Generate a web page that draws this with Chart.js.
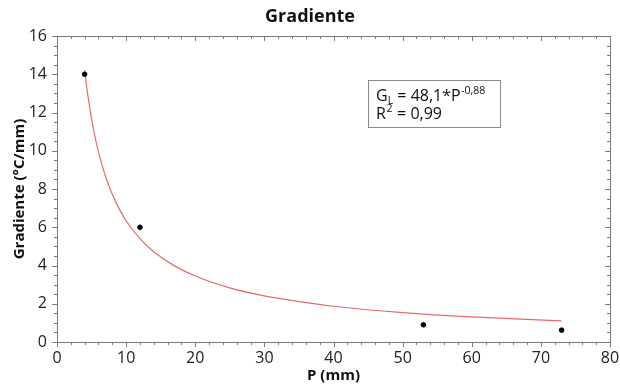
<!DOCTYPE html>
<html>
<head>
<meta charset="utf-8">
<script src="https://cdn.jsdelivr.net/npm/chart.js@4/dist/chart.umd.min.js"></script>
<style>
  html, body { margin: 0; padding: 0; background: #fff; }
  #wrap { width: 620px; height: 385px; }
</style>
</head>
<body>
<div id="wrap"><canvas id="c" width="620" height="385"></canvas></div>
<script>
// Measured points
const pointsP = [4, 12, 53, 73];
const pointsG = [14.0, 6.0, 0.9, 0.62];

// Fitted curve
const fitP = [4, 4.5, 5, 5.5, 6, 7, 8, 9, 10, 12, 14, 17, 20, 25, 30, 35, 40, 50, 60, 73];
const fitG = [14.2, 12.8, 11.67, 10.73, 9.94, 8.68, 7.72, 6.96, 6.34, 5.40, 4.72, 3.98, 3.45, 2.83, 2.41, 2.11, 1.87, 1.54, 1.31, 1.10];

const titleText = 'Gradiente';
const xTitle = 'P (mm)';
const yTitle = 'Gradiente (°C/mm)';
const eqMain = 'G';
const eqSub = 'L';
const eqMid = ' = 48,1*P';
const eqSup = '-0,88';
const r2Main = 'R';
const r2Sup = '2';
const r2Rest = ' = 0,99';

const FONT = "'Open Sans', 'DejaVu Sans', sans-serif";
const AXIS_COLOR = '#7a7a7a';

const framePlugin = {
  id: 'frame',
  afterDraw(chart) {
    const {ctx, chartArea: a, scales: {x, y}} = chart;
    ctx.save();
    ctx.strokeStyle = AXIS_COLOR;
    ctx.lineWidth = 1;
    ctx.beginPath();
    ctx.rect(Math.round(a.left) + 0.5, Math.round(a.top) + 0.5, Math.round(a.right - a.left), Math.round(a.bottom - a.top));
    ctx.stroke();
    ctx.beginPath();
    for (let v = 0; v <= 80; v += 2) {
      const px = Math.round(x.getPixelForValue(v)) + 0.5;
      const major = v % 10 === 0;
      const len = major ? 5 : 3;
      ctx.moveTo(px, a.bottom); ctx.lineTo(px, a.bottom + len);
      ctx.moveTo(px, a.top); ctx.lineTo(px, a.top + len);
    }
    for (let i = 0; i <= 32; i++) {
      const v = i * 0.5;
      const py = Math.round(y.getPixelForValue(v)) + 0.5;
      const major = i % 4 === 0;
      const len = major ? 5 : 3;
      ctx.moveTo(a.left, py); ctx.lineTo(a.left - len, py);
      ctx.moveTo(a.right, py); ctx.lineTo(a.right - len, py);
    }
    ctx.stroke();

    // Equation box
    const bx0 = x.getPixelForValue(45.0), bx1 = x.getPixelForValue(64.1);
    const by0 = y.getPixelForValue(13.7), by1 = y.getPixelForValue(11.25);
    ctx.fillStyle = '#fff';
    ctx.fillRect(bx0, by0, bx1 - bx0, by1 - by0);
    ctx.strokeStyle = '#8a8a8a';
    ctx.strokeRect(Math.round(bx0) + 0.5, Math.round(by0) + 0.5, Math.round(bx1 - bx0), Math.round(by1 - by0));

    ctx.fillStyle = '#111';
    ctx.textBaseline = 'alphabetic';
    ctx.textAlign = 'left';
    const big = '16px ' + FONT, small = '10.5px ' + FONT;
    let tx = bx0 + 8;
    let ty = by0 + 21;
    ctx.font = big; ctx.fillText(eqMain, tx, ty); tx += ctx.measureText(eqMain).width;
    ctx.font = small; ctx.fillText(eqSub, tx, ty + 3); tx += ctx.measureText(eqSub).width;
    ctx.font = big; ctx.fillText(eqMid, tx, ty); tx += ctx.measureText(eqMid).width;
    ctx.font = small; ctx.fillText(eqSup, tx + 0.5, ty - 7);
    tx = bx0 + 8;
    ty = by0 + 39;
    ctx.font = big; ctx.fillText(r2Main, tx, ty); tx += ctx.measureText(r2Main).width;
    ctx.font = small; ctx.fillText(r2Sup, tx + 0.5, ty - 7); tx += ctx.measureText(r2Sup).width + 1;
    ctx.font = big; ctx.fillText(r2Rest, tx, ty);
    ctx.restore();
  }
};

new Chart(document.getElementById('c'), {
  type: 'scatter',
  data: {
    datasets: [
      {
        label: 'Ajuste',
        data: fitP.map((p, i) => ({x: p, y: fitG[i]})),
        showLine: true,
        borderColor: '#e36b6b',
        borderWidth: 1.2,
        pointRadius: 0,
        cubicInterpolationMode: 'monotone',
        order: 2
      },
      {
        label: 'Gradiente',
        data: pointsP.map((p, i) => ({x: p, y: pointsG[i]})),
        backgroundColor: '#000',
        borderColor: '#000',
        pointRadius: 2.3,
        order: 1
      }
    ]
  },
  options: {
    responsive: false,
    animation: false,
    layout: { padding: { left: 0, right: 0, top: 0, bottom: 0 } },
    plugins: {
      legend: { display: false },
      tooltip: { enabled: false },
      title: {
        display: true,
        text: titleText,
        color: '#111',
        font: { family: FONT, size: 18, weight: 'bold', lineHeight: 1.2 },
        padding: { top: 6, bottom: 8.4 }
      }
    },
    scales: {
      x: {
        type: 'linear',
        min: 0, max: 80,
        grid: { display: false, drawTicks: false },
        border: { display: false },
        ticks: { stepSize: 10, color: '#222', padding: 7, font: { family: FONT, size: 16 } },
        title: { display: true, text: xTitle, color: '#111', padding: { top: 0, bottom: 0 }, font: { family: FONT, size: 15, weight: 'bold', lineHeight: 1.2 } },
        afterFit(s) { s.height = 43; s.paddingLeft = 0; s.paddingRight = 0; }
      },
      y: {
        type: 'linear',
        min: 0, max: 16,
        grid: { display: false, drawTicks: false },
        border: { display: false },
        ticks: { stepSize: 2, color: '#222', padding: 10, font: { family: FONT, size: 16 } },
        title: { display: true, text: yTitle, color: '#111', padding: { top: 11, bottom: 0 }, font: { family: FONT, size: 15, weight: 'bold', lineHeight: 1.2 } },
        afterFit(s) { s.width = 57; s.paddingTop = 0; s.paddingBottom = 0; }
      },
      yRight: {
        type: 'linear',
        position: 'right',
        min: 0, max: 16,
        grid: { display: false, drawTicks: false },
        border: { display: false },
        ticks: { display: false },
        afterFit(s) { s.width = 10; s.paddingTop = 0; s.paddingBottom = 0; }
      }
    }
  },
  plugins: [framePlugin]
});
</script>
</body>
</html>
